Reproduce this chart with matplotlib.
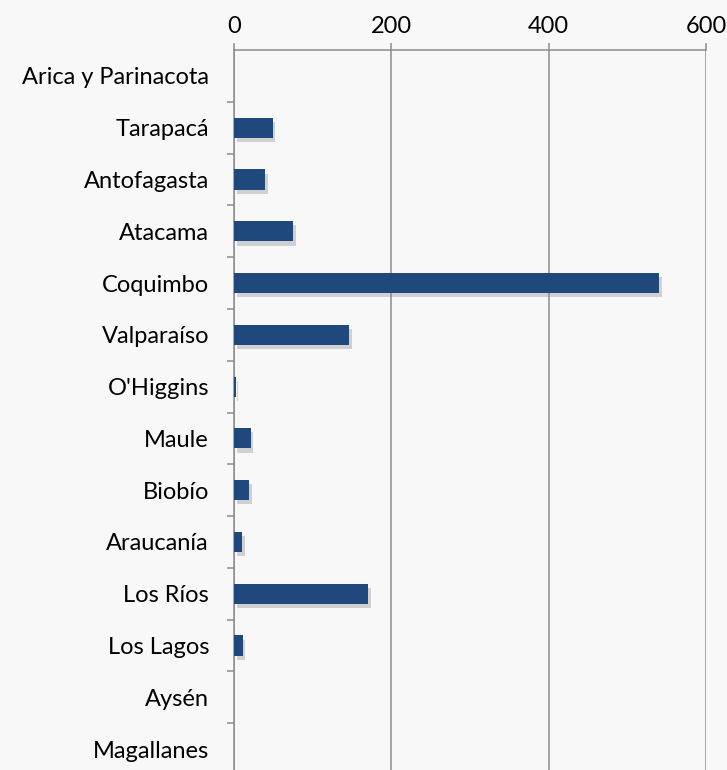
import matplotlib.pyplot as plt
import matplotlib.patheffects as pe
import numpy as np

regiones = ['Arica y Parinacota', 'Tarapacá', 'Antofagasta', 'Atacama', 'Coquimbo',
            'Valparaíso', "O'Higgins", 'Maule', 'Biobío', 'Araucanía', 'Los Ríos',
            'Los Lagos', 'Aysén', 'Magallanes']
valores = [0, 49, 40, 75, 540, 146, 2, 21, 19, 10, 170, 11, 0, 0]
x_ticks = [0, 200, 400, 600]

plt.rcParams['font.family'] = ['Lato', 'DejaVu Sans']
fig = plt.figure(figsize=(7.27, 7.7), dpi=100, facecolor='#f8f8f8')
ax = fig.add_axes([234 / 727, -5 / 770, (706 - 234) / 727, 725 / 770])
ax.set_facecolor('#f8f8f8')

y = np.arange(len(regiones))
bars = ax.barh(y, valores, height=0.39, color='#1f497d', zorder=3)
for b in bars:
    b.set_path_effects([pe.SimplePatchShadow(offset=(2, -3), shadow_rgbFace='#888888', alpha=0.35),
                        pe.Normal()])

ax.set_xlim(0, 600)
ax.set_ylim(len(regiones) - 0.5, -0.5)
ax.xaxis.tick_top()
ax.set_xticks(x_ticks)
ax.set_xticklabels([str(t) for t in x_ticks], fontsize=17)
ax.tick_params(axis='x', length=5, width=1.1, color='#8c8c8c', pad=4)
ax.grid(axis='x', color='#8c8c8c', linewidth=1.1, zorder=0)

ax.set_yticks(y)
ax.set_yticklabels(regiones, fontsize=17)
ax.set_yticks(np.arange(len(regiones)) + 0.5, minor=True)
ax.tick_params(axis='y', which='major', length=0, pad=18)
ax.tick_params(axis='y', which='minor', length=5, width=1.1, color='#8c8c8c')

for s in ['right', 'bottom']:
    ax.spines[s].set_visible(False)
for s in ['top', 'left']:
    ax.spines[s].set_color('#8c8c8c')
    ax.spines[s].set_linewidth(1.1)

fig.savefig('out.png', dpi=100, facecolor=fig.get_facecolor())
